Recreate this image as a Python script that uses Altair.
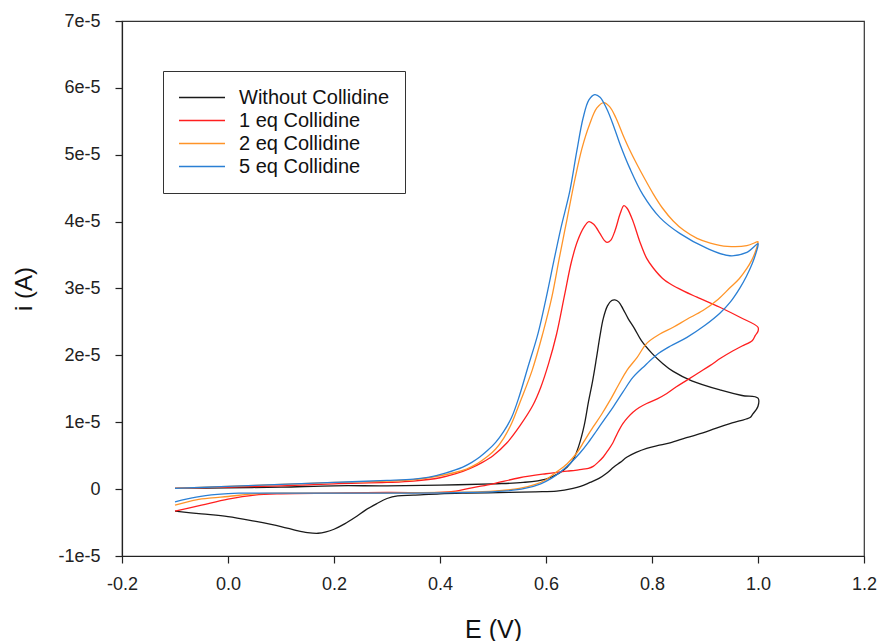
import altair as alt
import pandas as pd

SERIES = ["Without Collidine", "1 eq Collidine", "2 eq Collidine", "5 eq Collidine"]
COLORS = ["#1a1a1a", "#ff1f1f", "#ff9428", "#2a7fd4"]
X_TICKS = [-0.2, 0.0, 0.2, 0.4, 0.6, 0.8, 1.0, 1.2]
Y_TICKS = [-1e-5, 0.0, 1e-5, 2e-5, 3e-5, 4e-5, 5e-5, 6e-5, 7e-5]

# ---- Without Collidine (black) ----
bk_E_fwd = [-0.10, 0.00, 0.10, 0.20, 0.30, 0.40, 0.50, 0.557, 0.60, 0.625, 0.64, 0.652, 0.662,
            0.672, 0.68, 0.688, 0.695, 0.702, 0.708, 0.716, 0.724, 0.73, 0.737, 0.745, 0.755,
            0.767, 0.78, 0.80, 0.82, 0.84, 0.875, 0.93, 0.97, 1.00]
bk_i_fwd = [0.01e-5, 0.02e-5, 0.03e-5, 0.05e-5, 0.05e-5, 0.06e-5, 0.08e-5, 0.10e-5, 0.15e-5,
            0.24e-5, 0.33e-5, 0.45e-5, 0.65e-5, 0.95e-5, 1.3e-5, 1.62e-5, 1.95e-5, 2.3e-5,
            2.55e-5, 2.74e-5, 2.82e-5, 2.83e-5, 2.8e-5, 2.7e-5, 2.55e-5, 2.4e-5, 2.22e-5,
            2.03e-5, 1.88e-5, 1.76e-5, 1.62e-5, 1.48e-5, 1.40e-5, 1.36e-5]
bk_E_rev = [1.00, 0.99, 0.985, 0.965, 0.947, 0.92, 0.896, 0.865, 0.834, 0.81, 0.79, 0.77, 0.753,
            0.74, 0.728, 0.715, 0.70, 0.683, 0.665, 0.651, 0.62, 0.58, 0.53, 0.45, 0.40, 0.35,
            0.32, 0.30, 0.28, 0.26, 0.24, 0.22, 0.20, 0.185, 0.17, 0.15, 0.13, 0.10, 0.05, 0.00,
            -0.05, -0.10]
bk_i_rev = [1.24e-5, 1.12e-5, 1.07e-5, 1.02e-5, 0.98e-5, 0.91e-5, 0.84e-5, 0.77e-5, 0.69e-5,
            0.65e-5, 0.61e-5, 0.55e-5, 0.48e-5, 0.40e-5, 0.33e-5, 0.24e-5, 0.16e-5, 0.10e-5,
            0.04e-5, 0.01e-5, -0.03e-5, -0.04e-5, -0.05e-5, -0.06e-5, -0.07e-5, -0.09e-5,
            -0.10e-5, -0.14e-5, -0.22e-5, -0.31e-5, -0.42e-5, -0.52e-5, -0.60e-5, -0.64e-5,
            -0.66e-5, -0.65e-5, -0.62e-5, -0.56e-5, -0.48e-5, -0.41e-5, -0.37e-5, -0.33e-5]

# ---- 1 eq Collidine (red) ----
rd_E_fwd = [-0.10, 0.00, 0.10, 0.20, 0.30, 0.35, 0.40, 0.43, 0.457, 0.48, 0.50, 0.526, 0.551,
            0.575, 0.59, 0.605, 0.62, 0.635, 0.648, 0.66, 0.672, 0.681, 0.69, 0.702, 0.71, 0.715,
            0.722, 0.73, 0.74, 0.747, 0.753, 0.764, 0.777, 0.79, 0.802, 0.82, 0.834, 0.86,
            0.885, 0.928, 0.966, 1.00]
rd_i_fwd = [0.01e-5, 0.03e-5, 0.05e-5, 0.08e-5, 0.10e-5, 0.12e-5, 0.17e-5, 0.23e-5, 0.31e-5,
            0.40e-5, 0.50e-5, 0.69e-5, 0.95e-5, 1.25e-5, 1.52e-5, 1.88e-5, 2.32e-5, 2.90e-5,
            3.40e-5, 3.72e-5, 3.92e-5, 4.00e-5, 3.96e-5, 3.82e-5, 3.72e-5, 3.69e-5, 3.72e-5,
            3.86e-5, 4.12e-5, 4.24e-5, 4.20e-5, 4.01e-5, 3.70e-5, 3.45e-5, 3.31e-5, 3.15e-5,
            3.07e-5, 2.96e-5, 2.87e-5, 2.72e-5, 2.57e-5, 2.42e-5]
rd_E_rev = [1.00, 0.995, 0.989, 0.97, 0.953, 0.93, 0.91, 0.888, 0.866, 0.846, 0.828, 0.81, 0.79,
            0.776, 0.764, 0.754, 0.745, 0.735, 0.726, 0.717, 0.708, 0.698, 0.689, 0.68, 0.67,
            0.655, 0.64, 0.62, 0.60, 0.55, 0.50, 0.46, 0.43, 0.40, 0.30, 0.20, 0.10, 0.05, 0.00,
            -0.05, -0.10]
rd_i_rev = [2.36e-5, 2.30e-5, 2.22e-5, 2.14e-5, 2.07e-5, 1.96e-5, 1.85e-5, 1.74e-5, 1.63e-5,
            1.53e-5, 1.43e-5, 1.35e-5, 1.28e-5, 1.22e-5, 1.15e-5, 1.07e-5, 0.98e-5, 0.84e-5,
            0.69e-5, 0.58e-5, 0.48e-5, 0.40e-5, 0.34e-5, 0.31e-5, 0.30e-5, 0.28e-5, 0.27e-5,
            0.25e-5, 0.23e-5, 0.17e-5, 0.08e-5, 0.02e-5, -0.03e-5, -0.05e-5, -0.05e-5,
            -0.06e-5, -0.07e-5, -0.09e-5, -0.15e-5, -0.24e-5, -0.33e-5]

# ---- 2 eq Collidine (orange) ----
or_E_fwd = [-0.10, 0.00, 0.10, 0.20, 0.30, 0.35, 0.40, 0.45, 0.47, 0.49, 0.505, 0.52, 0.535,
            0.551, 0.574, 0.594, 0.611, 0.625, 0.64, 0.655, 0.668, 0.682, 0.696, 0.709, 0.72,
            0.732, 0.745, 0.758, 0.772, 0.787, 0.802, 0.82, 0.84, 0.86, 0.885, 0.91, 0.942,
            0.979, 1.00]
or_i_fwd = [0.01e-5, 0.04e-5, 0.07e-5, 0.10e-5, 0.12e-5, 0.14e-5, 0.20e-5, 0.30e-5, 0.38e-5,
            0.49e-5, 0.60e-5, 0.76e-5, 0.98e-5, 1.30e-5, 1.78e-5, 2.33e-5, 2.87e-5, 3.45e-5,
            4.05e-5, 4.65e-5, 5.10e-5, 5.45e-5, 5.70e-5, 5.78e-5, 5.72e-5, 5.55e-5, 5.30e-5,
            5.07e-5, 4.85e-5, 4.63e-5, 4.42e-5, 4.20e-5, 4.01e-5, 3.87e-5, 3.75e-5, 3.68e-5,
            3.63e-5, 3.64e-5, 3.70e-5]
or_E_rev = [1.00, 0.995, 0.988, 0.979, 0.965, 0.947, 0.925, 0.896, 0.866, 0.84, 0.815, 0.79,
            0.772, 0.753, 0.737, 0.721, 0.705, 0.689, 0.673, 0.658, 0.64, 0.617, 0.60, 0.58,
            0.55, 0.50, 0.40, 0.30, 0.20, 0.12, 0.05, 0.00, -0.03, -0.06, -0.10]
or_i_rev = [3.69e-5, 3.55e-5, 3.42e-5, 3.30e-5, 3.15e-5, 3.01e-5, 2.84e-5, 2.67e-5, 2.54e-5,
            2.42e-5, 2.32e-5, 2.18e-5, 1.97e-5, 1.78e-5, 1.56e-5, 1.33e-5, 1.12e-5, 0.93e-5,
            0.73e-5, 0.54e-5, 0.38e-5, 0.24e-5, 0.14e-5, 0.07e-5, 0.01e-5, -0.03e-5, -0.05e-5,
            -0.06e-5, -0.06e-5, -0.06e-5, -0.07e-5, -0.11e-5, -0.13e-5, -0.16e-5, -0.24e-5]

# ---- 5 eq Collidine (blue) ----
bl_E_fwd = [-0.10, 0.00, 0.10, 0.20, 0.30, 0.35, 0.38, 0.41, 0.443, 0.46, 0.475, 0.49, 0.505,
            0.52, 0.535, 0.55, 0.565, 0.585, 0.60, 0.615, 0.628, 0.645, 0.658, 0.670, 0.681,
            0.692, 0.702, 0.715, 0.728, 0.74, 0.758, 0.783, 0.815, 0.853, 0.904, 0.947, 0.979,
            1.00]
bl_i_fwd = [0.01e-5, 0.04e-5, 0.07e-5, 0.10e-5, 0.13e-5, 0.15e-5, 0.18e-5, 0.24e-5, 0.33e-5,
            0.40e-5, 0.48e-5, 0.58e-5, 0.70e-5, 0.86e-5, 1.07e-5, 1.40e-5, 1.80e-5, 2.33e-5,
            2.85e-5, 3.42e-5, 3.90e-5, 4.46e-5, 5.05e-5, 5.55e-5, 5.82e-5, 5.90e-5, 5.86e-5,
            5.68e-5, 5.42e-5, 5.15e-5, 4.80e-5, 4.40e-5, 4.06e-5, 3.82e-5, 3.60e-5, 3.49e-5,
            3.54e-5, 3.67e-5]
bl_E_rev = [1.00, 0.995, 0.989, 0.978, 0.966, 0.948, 0.928, 0.90, 0.866, 0.835, 0.809, 0.787,
            0.764, 0.745, 0.726, 0.71, 0.696, 0.68, 0.664, 0.645, 0.626, 0.61, 0.59, 0.56, 0.52,
            0.45, 0.35, 0.25, 0.15, 0.10, 0.05, 0.02, -0.02, -0.06, -0.10]
bl_i_rev = [3.64e-5, 3.50e-5, 3.37e-5, 3.18e-5, 3.01e-5, 2.80e-5, 2.63e-5, 2.45e-5, 2.27e-5,
            2.14e-5, 2.01e-5, 1.85e-5, 1.67e-5, 1.45e-5, 1.22e-5, 1.04e-5, 0.88e-5, 0.70e-5,
            0.54e-5, 0.38e-5, 0.25e-5, 0.16e-5, 0.08e-5, 0.01e-5, -0.03e-5, -0.05e-5, -0.06e-5,
            -0.06e-5, -0.06e-5, -0.06e-5, -0.06e-5, -0.06e-5, -0.08e-5, -0.12e-5, -0.19e-5]

curves = [
    (SERIES[0], bk_E_fwd + bk_E_rev, bk_i_fwd + bk_i_rev),
    (SERIES[1], rd_E_fwd + rd_E_rev, rd_i_fwd + rd_i_rev),
    (SERIES[2], or_E_fwd + or_E_rev, or_i_fwd + or_i_rev),
    (SERIES[3], bl_E_fwd + bl_E_rev, bl_i_fwd + bl_i_rev),
]
rows = []
for name, E, I in curves:
    for k, (e, i) in enumerate(zip(E, I)):
        rows.append({"series": name, "idx": k, "E": e, "i": i})
df = pd.DataFrame(rows)

FONT = "Liberation Sans"

chart = alt.Chart(df).mark_line(strokeWidth=1.3, interpolate="catmull-rom").encode(
    x=alt.X("E:Q",
            scale=alt.Scale(domain=[-0.2, 1.2], nice=False, zero=False),
            axis=alt.Axis(values=X_TICKS, title="E (V)",
                          labelExpr="(datum.value < -0.0001 ? '-' : '') + format(abs(datum.value), '.1f')",
                          labelPadding=12, labelFlush=False, labelOverlap=False,
                          titleFontSize=25, titleY=81, titleBaseline="alphabetic")),
    y=alt.Y("i:Q",
            scale=alt.Scale(domain=[-1e-5, 7e-5], nice=False, zero=False),
            axis=alt.Axis(values=Y_TICKS, title="i (A)",
                          labelExpr="datum.value == 0 ? '0' : (datum.value < 0 ? '-' : '') + format(abs(datum.value), '.0e')",
                          labelPadding=15, labelFlush=False, labelOverlap=False,
                          titleFontSize=24, titleX=-91, titleY=267.5, titleAngle=270,
                          titleBaseline="alphabetic", titleAlign="center")),
    color=alt.Color("series:N", title=None, sort=SERIES,
                    scale=alt.Scale(domain=SERIES, range=COLORS),
                    legend=alt.Legend(orient="none", legendX=41, legendY=50,
                                      direction="vertical", symbolType="stroke",
                                      symbolSize=2116, symbolStrokeWidth=1.4,
                                      clipHeight=23, rowPadding=0, padding=15,
                                      labelOffset=13, labelFontSize=20, labelFont=FONT,
                                      labelColor="#111", labelLimit=400,
                                      strokeColor="#333", fillColor="white")),
    order=alt.Order("idx:Q"),
).properties(
    width=742, height=535,
    autosize=alt.AutoSizeParams(type="none"),
    padding={"left": 122, "top": 21, "right": 16, "bottom": 85},
).configure_view(
    stroke="#333", strokeWidth=1.2
).configure_axis(
    grid=False, domainColor="#222", domainWidth=1.2, tickColor="#222", tickWidth=1.2,
    tickSize=7, labelFont=FONT, labelFontSize=18, labelColor="#222",
    titleFont=FONT, titleFontWeight="normal", titleColor="#111"
)

chart.save("out.html", embed_options={"renderer": "svg", "actions": False})
